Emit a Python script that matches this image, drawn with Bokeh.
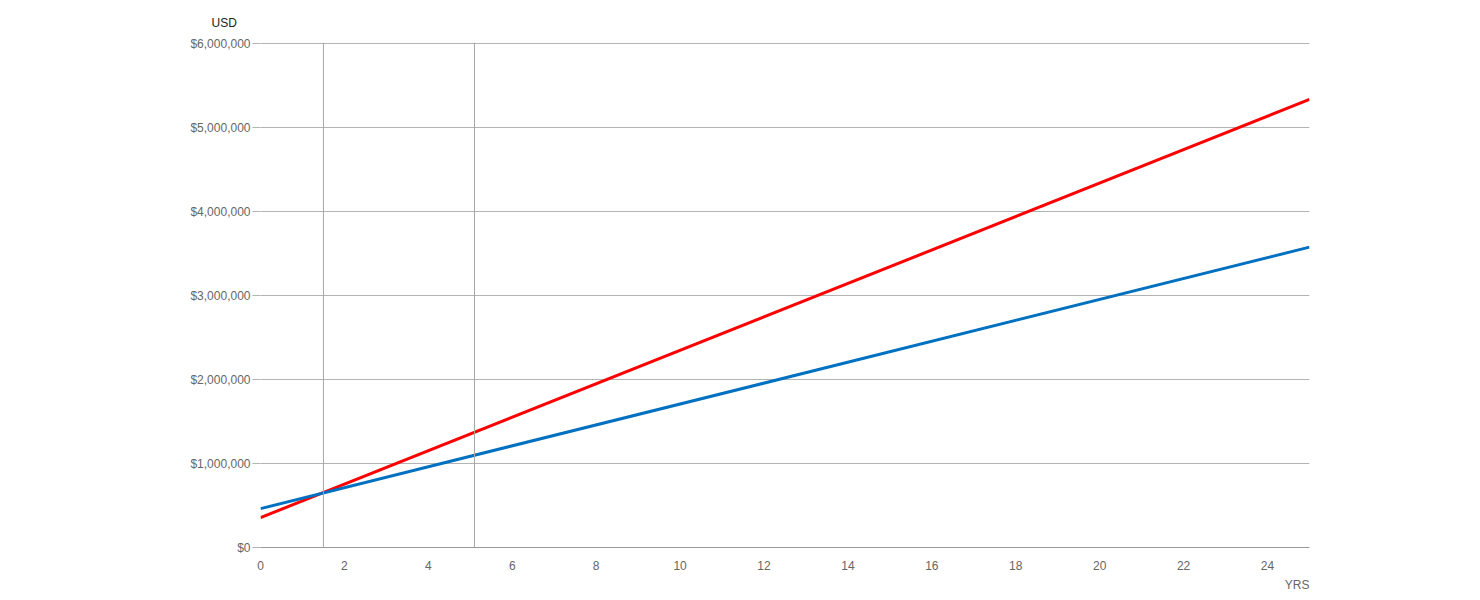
from bokeh.plotting import figure
from bokeh.models import Range1d, NumeralTickFormatter, FixedTicker, Span, Title
from bokeh.embed import file_html
from bokeh.resources import INLINE

# Data
years = [0, 25]
series_red = [356000, 5334000]
series_blue = [463000, 3576000]
marker_years = [1.5, 5.1]
y_ticks = [0, 1000000, 2000000, 3000000, 4000000, 5000000, 6000000]
x_ticks = list(range(0, 25, 2))
y_title = "USD"
x_title = "YRS"

FONT = "Liberation Sans"

p = figure(width=1464, height=595, output_backend="svg", toolbar_location=None,
           x_range=Range1d(0, 25), y_range=Range1d(0, 6012000),
           min_border_left=260, min_border_right=155, min_border_top=42,
           min_border_bottom=10)
p.outline_line_color = None
p.background_fill_color = "white"
p.border_fill_color = "white"

# titles
p.title.text = y_title
p.title.align = "left"
p.title.offset = -49
p.title.standoff = 25
p.title.text_font = FONT
p.title.text_font_size = "12px"
p.title.text_font_style = "normal"
p.title.text_color = "#222222"

p.add_layout(Title(text=x_title, align="right", text_font=FONT, text_font_size="12px",
                   text_font_style="normal", text_color="#666666", standoff=7), "below")

# grids
p.xgrid.grid_line_color = None
p.ygrid.grid_line_color = "#b3b3b3"
p.ygrid.ticker = FixedTicker(ticks=y_ticks)

# y axis
p.yaxis.ticker = FixedTicker(ticks=y_ticks)
p.yaxis.formatter = NumeralTickFormatter(format="$0,0")
p.yaxis.axis_line_color = None
p.yaxis.major_tick_line_color = "#b3b3b3"
p.yaxis.major_tick_out = 8
p.yaxis.major_tick_in = 0
p.yaxis.minor_tick_line_color = None
p.yaxis.major_label_standoff = 2
p.yaxis.major_label_text_font = FONT
p.yaxis.major_label_text_font_size = "12px"
p.yaxis.major_label_text_color = "#666666"

# x axis
p.xaxis.ticker = FixedTicker(ticks=x_ticks)
p.xaxis.axis_line_color = "#999999"
p.xaxis.major_tick_line_color = None
p.xaxis.minor_tick_line_color = None
p.xaxis.major_label_standoff = 7
p.xaxis.major_label_text_font = FONT
p.xaxis.major_label_text_font_size = "12px"
p.xaxis.major_label_text_color = "#666666"

# vertical marker lines
for m in marker_years:
    p.add_layout(Span(location=m, dimension="height", line_color="#a6a6a6", line_width=1))

# series
p.line(years, series_red, line_color="#ff0000", line_width=3)
p.line(years, series_blue, line_color="#0070c0", line_width=3)

open("out.html", "w").write(file_html(p, INLINE))
